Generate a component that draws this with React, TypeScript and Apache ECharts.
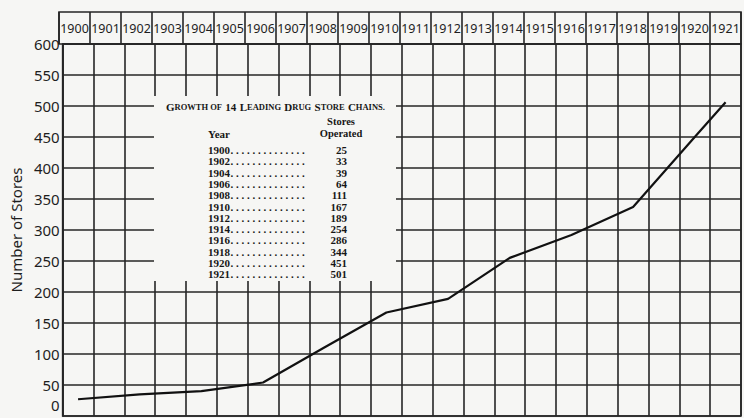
import React, { useEffect, useRef } from "react";
import * as echarts from "echarts";

const years = [
  "1900", "1901", "1902", "1903", "1904", "1905", "1906", "1907", "1908", "1909", "1910",
  "1911", "1912", "1913", "1914", "1915", "1916", "1917", "1918", "1919", "1920", "1921",
];

// values as drawn on the chart
const plotYears = ["1900", "1902", "1904", "1906", "1908", "1910", "1912", "1914", "1916", "1918", "1920", "1921"];
const plotStores = [27, 35, 40, 54, 111, 167, 189, 255, 292, 337, 450, 506];

// values printed in the inset table
const tableYears = ["1900", "1902", "1904", "1906", "1908", "1910", "1912", "1914", "1916", "1918", "1920", "1921"];
const tableStores = ["25", "33", "39", "64", "111", "167", "189", "254", "286", "344", "451", "501"];

const BG = "#f6f6f4";
const INK = "#1e1e1e";
const GRIDC = "#262626";
const SANS = "'Noto Sans', 'Open Sans', sans-serif";
const SERIF = "'Liberation Serif', 'DejaVu Serif', serif";

export default function App() {
  const ref = useRef<HTMLDivElement>(null);

  useEffect(() => {
    if (!ref.current) return;
    const chart = echarts.init(ref.current, undefined, { renderer: "svg" });

    const seriesData = years.map((y) => {
      const i = plotYears.indexOf(y);
      return i >= 0 ? plotStores[i] : null;
    });

    const serifText = (text: string, x: number, y: number, align: string, size = 11) => ({
      type: "text",
      x,
      y,
      z: 110,
      style: {
        text,
        fill: "#161616",
        fontFamily: SERIF,
        fontWeight: "bold",
        fontSize: size,
        align,
        verticalAlign: "middle",
      },
    });

    const rowY0 = 150;
    const rowStep = 11.3;
    const tableRows: any[] = [];
    tableYears.forEach((yr, i) => {
      const y = rowY0 + i * rowStep;
      tableRows.push(serifText(yr, 208, y, "left"));
      tableRows.push(serifText("." + " .".repeat(13), 230.5, y, "left"));
      tableRows.push(serifText(tableStores[i], 347, y, "right"));
    });

    const option: any = {
      animation: false,
      backgroundColor: BG,
      grid: [
        { left: 59, right: 3, top: 12, height: 32, show: true, borderColor: GRIDC, borderWidth: 1.6, backgroundColor: "transparent" },
        { left: 59, right: 3, top: 44, bottom: 2, show: true, borderColor: GRIDC, borderWidth: 1.6, backgroundColor: "transparent" },
      ],
      xAxis: [
        {
          gridIndex: 0,
          type: "category",
          data: years,
          boundaryGap: true,
          axisLine: { show: false },
          axisTick: { show: false },
          splitLine: { show: true, interval: 0, lineStyle: { color: GRIDC, width: 1.6 } },
          axisLabel: {
            show: true,
            interval: 0,
            inside: true,
            margin: 16,
            verticalAlign: "middle",
            fontFamily: SANS,
            fontSize: 12.5,
            color: INK,
          },
        },
        {
          gridIndex: 1,
          type: "category",
          data: years,
          boundaryGap: true,
          axisLine: { show: false },
          axisTick: { show: false },
          axisLabel: { show: false },
          splitLine: { show: true, interval: 0, lineStyle: { color: GRIDC, width: 1.6 } },
        },
      ],
      yAxis: [
        { gridIndex: 0, type: "value", show: false, min: 0, max: 1 },
        {
          gridIndex: 1,
          type: "value",
          min: 0,
          max: 600,
          interval: 50,
          axisLine: { show: true, lineStyle: { color: GRIDC, width: 1.6 } },
          axisTick: { show: false },
          splitLine: { show: true, lineStyle: { color: GRIDC, width: 1.6 } },
          axisLabel: {
            margin: 3,
            fontFamily: SANS,
            fontSize: 15,
            color: INK,
            formatter: (v: number) => (v === 0 ? "{z|0}" : String(v)),
            rich: {
              z: { fontFamily: SANS, fontSize: 15, color: INK, padding: [0, 0, 22, 0] },
            },
          },
          name: "Number of Stores",
          nameLocation: "middle",
          nameGap: 36,
          nameRotate: 90,
          nameTextStyle: { fontFamily: SANS, fontSize: 15, color: INK },
        },
      ],
      series: [
        {
          type: "line",
          xAxisIndex: 1,
          yAxisIndex: 1,
          data: seriesData,
          connectNulls: true,
          showSymbol: false,
          symbol: "none",
          z: 5,
          lineStyle: { color: "#111", width: 2.2 },
        },
      ],
      graphic: [
        {
          type: "rect",
          z: 100,
          shape: { x: 154, y: 96, width: 242, height: 185 },
          style: { fill: BG },
        },
        {
          type: "text",
          x: 166,
          y: 107,
          z: 110,
          style: {
            text:
              "{b|G}{s|ROWTH OF} {b|14} {b|L}{s|EADING} {b|D}{s|RUG} {b|S}{s|TORE} {b|C}{s|HAINS.}",
            fill: "#161616",
            verticalAlign: "middle",
            rich: {
              b: { fontFamily: SERIF, fontWeight: "bold", fontSize: 11, fill: "#161616" },
              s: { fontFamily: SERIF, fontWeight: "bold", fontSize: 8.5, fill: "#161616" },
            },
          },
        },
        serifText("Stores", 341, 121, "center", 10.5),
        serifText("Operated", 341, 133, "center", 10.5),
        serifText("Year", 208, 134, "left", 11),
        ...tableRows,
      ],
    };

    chart.setOption(option);
    return () => chart.dispose();
  }, []);

  return (
    <div
      ref={ref}
      style={{ position: "fixed", left: 0, top: 0, width: 744, height: 418, background: BG }}
    />
  );
}
